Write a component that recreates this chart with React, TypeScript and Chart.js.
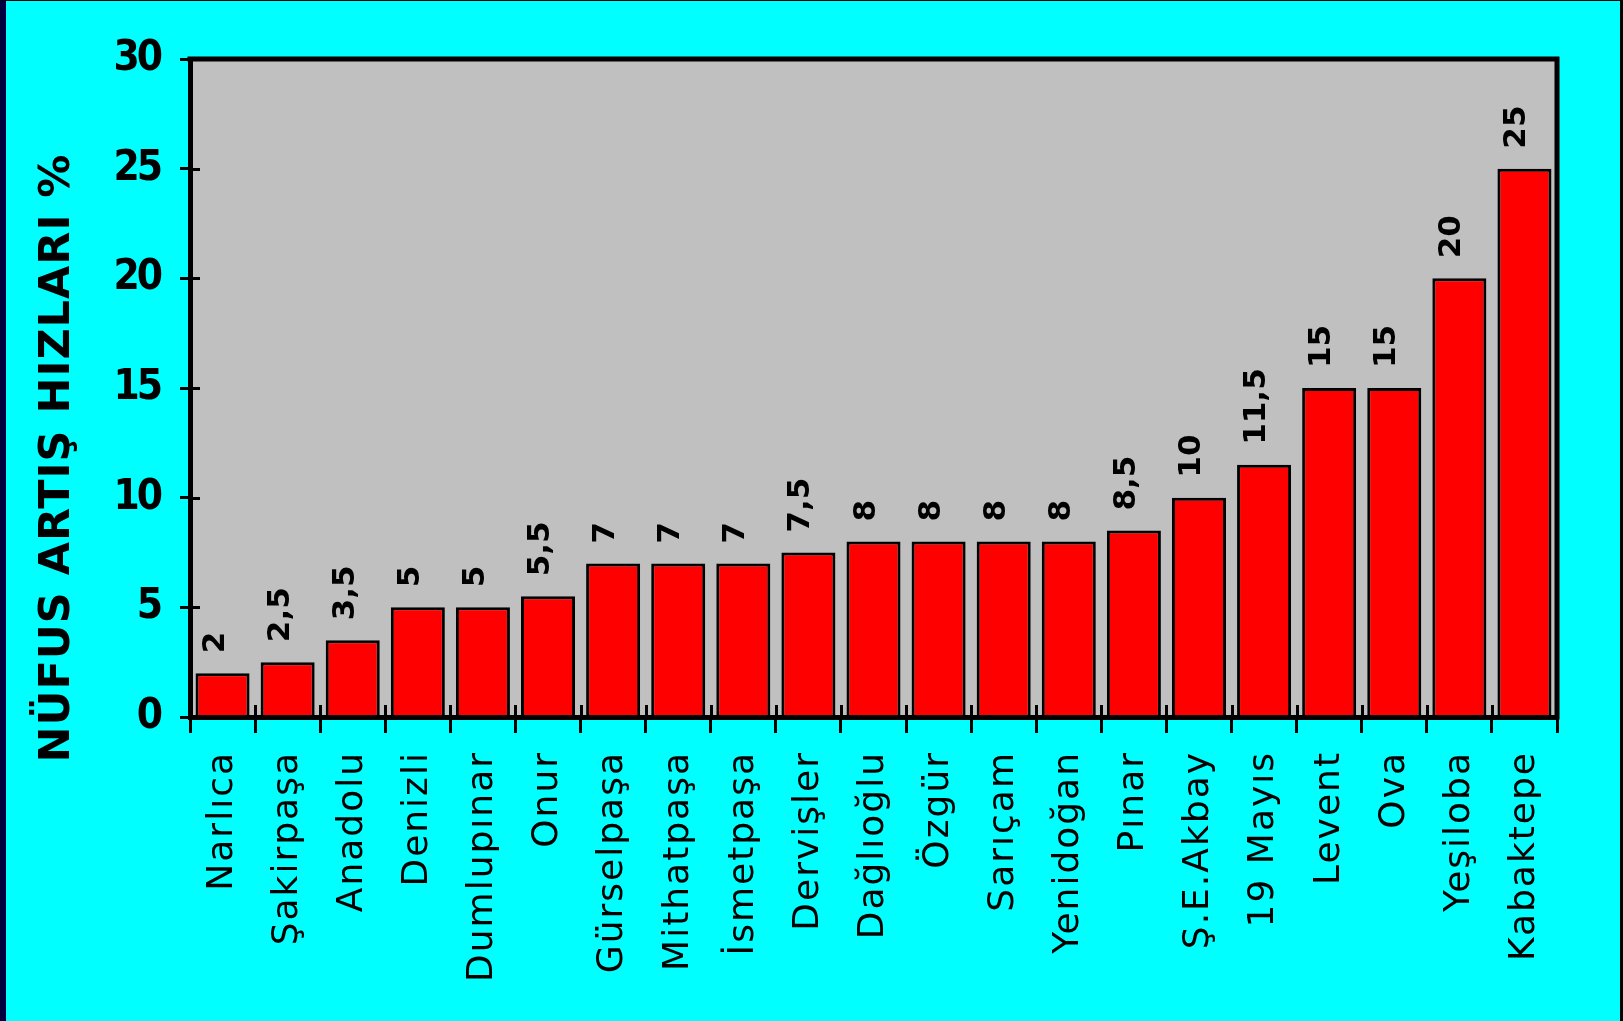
import React, { useEffect, useRef } from 'react';
import { Chart, registerables } from 'chart.js';

Chart.register(...registerables);

const categories = [
  'Narlıca', 'Şakirpaşa', 'Anadolu', 'Denizli', 'Dumlupınar', 'Onur', 'Gürselpaşa',
  'Mithatpaşa', 'İsmetpaşa', 'Dervişler', 'Dağlıoğlu', 'Özgür', 'Sarıçam', 'Yenidoğan',
  'Pınar', 'Ş.E.Akbay', '19 Mayıs', 'Levent', 'Ova', 'Yeşiloba', 'Kabaktepe',
];
const growthRates = [2, 2.5, 3.5, 5, 5, 5.5, 7, 7, 7, 7.5, 8, 8, 8, 8, 8.5, 10, 11.5, 15, 15, 20, 25];
const yTickValues = [0, 5, 10, 15, 20, 25, 30];
const yAxisTitle = 'NÜFUS ARTIŞ HIZLARI %';

const fmt = (v: number) => String(v).replace('.', ',');

const decorPlugin = {
  id: 'decor',
  beforeDraw(chart: any) {
    const { ctx, chartArea: a } = chart;
    ctx.save();
    ctx.fillStyle = '#C0C0C0';
    ctx.fillRect(a.left, a.top, a.right - a.left, a.bottom - a.top);
    ctx.restore();
    // spacing used by the y tick labels (drawn before the datasets)
    ctx.letterSpacing = '-3px';
  },
  beforeDatasetsDraw(chart: any) {
    const { ctx, chartArea: a, scales } = chart;
    const xs = scales.x;
    const ys = scales.y;
    ctx.save();
    ctx.strokeStyle = '#000';
    ctx.lineWidth = 3;
    const n = categories.length;
    const w = (xs.right - xs.left) / n;
    ctx.beginPath();
    for (let i = 0; i <= n; i++) {
      const px = Math.round(xs.left + i * w) + 0.5;
      ctx.moveTo(px, a.bottom);
      ctx.lineTo(px, a.bottom - 12);
    }
    yTickValues.forEach((v) => {
      const py = Math.round(ys.getPixelForValue(v)) + 0.5;
      ctx.moveTo(a.left, py);
      ctx.lineTo(a.left + 10, py);
    });
    ctx.stroke();
    ctx.restore();
  },
  afterDatasetsDraw(chart: any) {
    const { ctx } = chart;
    const meta = chart.getDatasetMeta(0);
    ctx.letterSpacing = '0px';
    ctx.save();
    ctx.font = 'bold 31px "DejaVu Sans"';
    ctx.fillStyle = '#000';
    ctx.textAlign = 'left';
    ctx.textBaseline = 'middle';
    meta.data.forEach((bar: any, i: number) => {
      ctx.save();
      ctx.translate(bar.x - 7, bar.y - 20);
      ctx.rotate(-Math.PI / 2);
      ctx.fillText(fmt(growthRates[i]), 0, 0);
      ctx.restore();
    });
    ctx.restore();
    // spacing used by the x tick labels (drawn after the datasets)
    ctx.letterSpacing = '2px';
  },
  afterDraw(chart: any) {
    const { ctx, chartArea: a } = chart;
    ctx.save();
    ctx.strokeStyle = '#000';
    ctx.lineWidth = 5;
    ctx.lineCap = 'square';
    ctx.beginPath();
    ctx.moveTo(a.left, a.top);
    ctx.lineTo(a.right, a.top);
    ctx.lineTo(a.right, a.bottom);
    ctx.stroke();
    ctx.restore();

    ctx.letterSpacing = '1px';
    ctx.save();
    ctx.font = 'bold 43px "DejaVu Sans"';
    ctx.fillStyle = '#000';
    ctx.textAlign = 'center';
    ctx.textBaseline = 'middle';
    ctx.translate(a.left - 132, (a.top + a.bottom) / 2 + 70);
    ctx.rotate(-Math.PI / 2);
    ctx.fillText(yAxisTitle, 0, 0);
    ctx.restore();
    ctx.letterSpacing = '0px';
  },
};

export default function App() {
  const ref = useRef<HTMLCanvasElement | null>(null);

  useEffect(() => {
    if (!ref.current) return;
    const chart = new Chart(ref.current, {
      type: 'bar',
      data: {
        labels: categories,
        datasets: [
          {
            data: growthRates,
            backgroundColor: '#FF0000',
            borderColor: '#000000',
            borderWidth: 3,
            barPercentage: 0.83,
            categoryPercentage: 1,
          },
        ],
      },
      options: {
        animation: false,
        responsive: false,
        devicePixelRatio: 1,
        layout: { padding: { top: 58, right: 63, left: 0, bottom: 0 } },
        plugins: {
          legend: { display: false },
          tooltip: { enabled: false },
          title: { display: false },
        },
        scales: {
          x: {
            offset: true,
            afterFit(scale: any) {
              scale.height = 304;
            },
            grid: {
              offset: true,
              drawOnChartArea: false,
              drawTicks: true,
              tickLength: 16,
              color: '#000',
              lineWidth: 3,
            },
            border: { display: true, color: '#000', width: 5, z: 1 },
            ticks: {
              z: 1,
              autoSkip: false,
              minRotation: 90,
              maxRotation: 90,
              padding: 18,
              color: '#000',
              font: { family: '"DejaVu Sans", Verdana, sans-serif', size: 36, weight: 'normal' },
            },
          },
          y: {
            min: yTickValues[0],
            max: yTickValues[yTickValues.length - 1],
            afterFit(scale: any) {
              scale.width = 184;
            },
            afterBuildTicks(scale: any) {
              scale.ticks = yTickValues.map((v) => ({ value: v }));
            },
            grid: {
              drawOnChartArea: false,
              drawTicks: true,
              tickLength: 10,
              color: '#000',
              lineWidth: 3,
            },
            border: { display: true, color: '#000', width: 5 },
            ticks: {
              padding: 20,
              color: '#000',
              font: {
                family: '"DejaVu Sans Condensed", "Liberation Sans", sans-serif',
                size: 42,
                weight: 'bold',
              },
            },
            title: { display: false },
          },
        },
      },
      plugins: [decorPlugin],
    });
    return () => chart.destroy();
  }, []);

  return (
    <div
      style={{
        position: 'fixed',
        left: 0,
        top: 0,
        width: 1623,
        height: 1021,
        boxSizing: 'border-box',
        background: '#00FFFF',
        borderLeft: '6px solid #000040',
        borderRight: '3px solid #000000',
        borderTop: '1px solid #000000',
      }}
    >
      <canvas ref={ref} width={1614} height={1020} style={{ display: 'block', width: 1614, height: 1020 }} />
    </div>
  );
}
